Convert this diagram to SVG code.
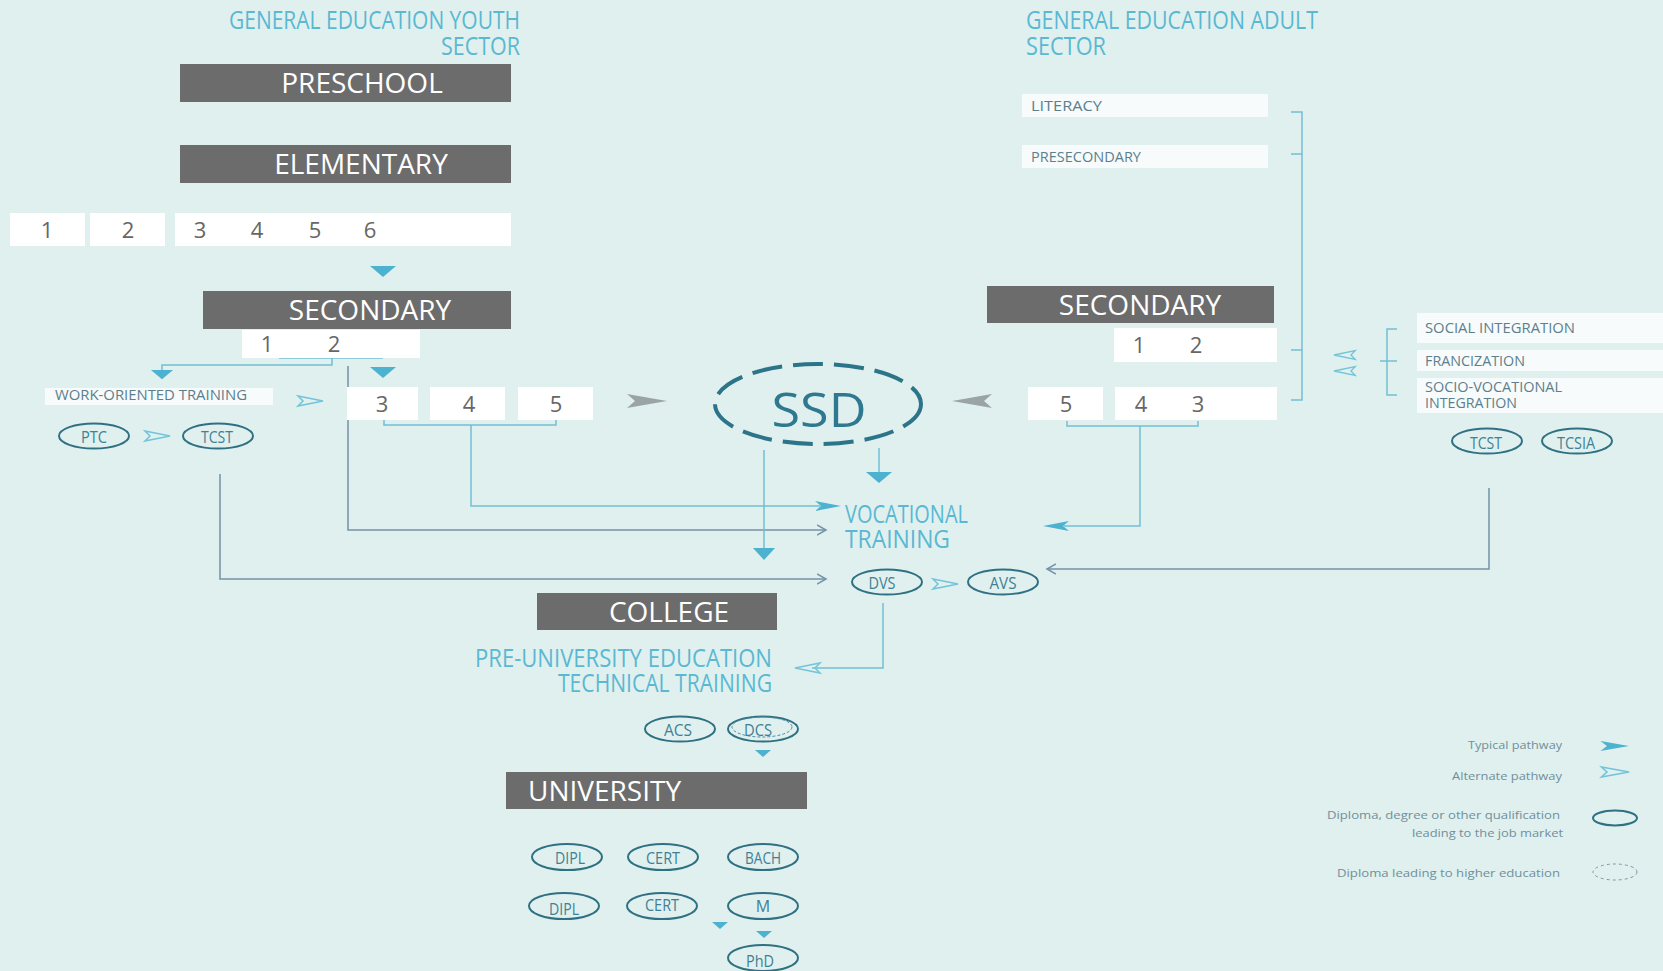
<svg xmlns="http://www.w3.org/2000/svg" width="1663" height="971" viewBox="0 0 1663 971">
<style>
.bg{fill:#e0f0ee}
.bar{fill:#6c6c6c}
.bart{font-family:"Open Sans","Noto Sans",sans-serif;font-size:28px;fill:#ffffff;text-anchor:middle}
.bartl{font-family:"Open Sans","Noto Sans",sans-serif;font-size:28px;fill:#ffffff;text-anchor:start}
.wbox{fill:#ffffff}
.sbox{fill:#f7fbfb}
.num{font-family:"Open Sans","Noto Sans",sans-serif;font-size:22px;fill:#666666;text-anchor:middle}
.title{font-family:"Open Sans","Noto Sans",sans-serif;font-size:25px;fill:#5ab8d3}
.lbl{font-family:"Open Sans","Noto Sans",sans-serif;font-size:15px;fill:#5c7f8e}
.oval{fill:none;stroke:#2f7183;stroke-width:2}
.ovt{font-family:"Open Sans","Noto Sans",sans-serif;font-size:16px;fill:#3f8096;text-anchor:middle}
.lb{fill:none;stroke:#72bfd4;stroke-width:1.5}
.gb{fill:none;stroke:#7392a8;stroke-width:1.5}
.tri{fill:#4cb2cf}
.dart{fill:#4cb2cf}
.hdart{fill:none;stroke:#72c4da;stroke-width:1.5}
.gdart{fill:#9aa4a6}
.leg{font-family:"Open Sans","Noto Sans",sans-serif;font-size:11px;fill:#6f8f9c;text-anchor:end}
</style>
<defs>
<path id="dartR" d="M0,0 L-26,-5 L-20,0 L-26,5 Z"/>
<path id="hdartR" d="M0,0 L-25,-5 L-20,0 L-25,5 Z"/>
<path id="gdartR" d="M0,0 L-40,-7 L-32,0 L-40,7 Z"/>
<path id="triD" d="M-13,0 L13,0 L0,11 Z"/>
<path id="triS" d="M-8,0 L8,0 L0,7 Z"/>
<marker id="chev" markerUnits="userSpaceOnUse" markerWidth="12" markerHeight="12" refX="9" refY="5" orient="auto" viewBox="0 0 12 10">
<path d="M0,0 L9,5 L0,10" fill="none" stroke="#7392a8" stroke-width="1.5"/>
</marker>
</defs>
<rect class="bg" x="0" y="0" width="1663" height="971"/>

<g id="connectors">
<use href="#triD" class="tri" transform="translate(383,266)"/>
<path class="lb" d="M279,358 H383"/>
<path class="lb" d="M332,358 V365 H162 V371"/>
<use href="#triD" class="tri" transform="translate(162,370) scale(0.85)"/>
<use href="#triD" class="tri" transform="translate(383,367)"/>
<path class="gb" d="M348,366 V530 H826" marker-end="url(#chev)"/>
<path class="lb" d="M384,420 V425 H556 V420"/>
<path class="lb" d="M471,425 V506 H820"/>
<use href="#dartR" class="dart" transform="translate(841,506)"/>
<use href="#hdartR" class="hdart" transform="translate(323,401)"/>
<use href="#gdartR" class="gdart" transform="translate(667,401)"/>
<use href="#gdartR" class="gdart" transform="translate(952,401) scale(-1,1)"/>
<path class="lb" d="M764,450 V549"/>
<use href="#triD" class="tri" transform="translate(764,548) scale(0.85,1.1)"/>
<path class="lb" d="M879,448 V473"/>
<use href="#triD" class="tri" transform="translate(879,472)"/>
<path class="gb" d="M220,474 V579 H826" marker-end="url(#chev)"/>
<use href="#hdartR" class="hdart" transform="translate(958,584)"/>
<use href="#hdartR" class="hdart" transform="translate(170,436)"/>
<path class="lb" d="M883,603 V668 H812"/>
<use href="#hdartR" class="hdart" transform="translate(795,668) scale(-1,1)"/>
<path class="lb" d="M1291,112 H1302 V400 H1291 M1291,154 H1302 M1291,350 H1302"/>
<path class="lb" d="M1397,329 H1387 V395 H1397 M1380,361 H1397"/>
<use href="#hdartR" class="hdart" transform="translate(1334,355) scale(-0.85,0.9)"/>
<use href="#hdartR" class="hdart" transform="translate(1334,371) scale(-0.85,0.9)"/>
<path class="lb" d="M1067,421 V426 H1198 V421"/>
<path class="lb" d="M1140,426 V526 H1064"/>
<use href="#dartR" class="dart" transform="translate(1043,526) scale(-1,1)"/>
<path class="gb" d="M1489,488 V569 H1047" marker-end="url(#chev)"/>
<use href="#triS" class="tri" transform="translate(763,750)"/>
<use href="#triS" class="tri" transform="translate(720,922)"/>
<use href="#triS" class="tri" transform="translate(764,931)"/>
</g>

<g id="title-youth">
<text class="title" x="520" y="29" text-anchor="end" textLength="291" lengthAdjust="spacingAndGlyphs">GENERAL EDUCATION YOUTH</text>
<text class="title" x="520" y="55" text-anchor="end" textLength="79" lengthAdjust="spacingAndGlyphs">SECTOR</text>
</g>
<g id="preschool">
<rect class="bar" x="180" y="64" width="331" height="38"/>
<text class="bart" x="362" y="93">PRESCHOOL</text>
</g>
<g id="elementary">
<rect class="bar" x="180" y="145" width="331" height="38"/>
<text class="bart" x="361" y="174">ELEMENTARY</text>
</g>
<g id="elementary-grades">
<rect class="wbox" x="10" y="213" width="75" height="33"/>
<rect class="wbox" x="90" y="213" width="75" height="33"/>
<rect class="wbox" x="175" y="213" width="336" height="33"/>
<text class="num" x="47" y="238">1</text>
<text class="num" x="128" y="238">2</text>
<text class="num" x="200" y="238">3</text>
<text class="num" x="257" y="238">4</text>
<text class="num" x="315" y="238">5</text>
<text class="num" x="370" y="238">6</text>
</g>
<g id="secondary-youth">
<rect class="bar" x="203" y="291" width="308" height="38"/>
<text class="bart" x="370" y="320">SECONDARY</text>
</g>
<g id="secondary-youth-12">
<rect class="wbox" x="242" y="330" width="178" height="28"/>
<text class="num" x="267" y="352">1</text>
<text class="num" x="334" y="352">2</text>
</g>
<g id="secondary-youth-345">
<rect class="wbox" x="347" y="387" width="71" height="33"/>
<rect class="wbox" x="430" y="387" width="75" height="33"/>
<rect class="wbox" x="518" y="387" width="75" height="33"/>
<text class="num" x="382" y="412">3</text>
<text class="num" x="469" y="412">4</text>
<text class="num" x="556" y="412">5</text>
</g>
<g id="work-oriented">
<rect class="sbox" x="45" y="388" width="228" height="17"/>
<text class="lbl" x="55" y="400" textLength="192" lengthAdjust="spacingAndGlyphs">WORK-ORIENTED TRAINING</text>
</g>
<g id="ptc">
<ellipse class="oval" cx="94" cy="436" rx="35" ry="12.5"/>
<text class="ovt" x="94" y="443" textLength="26" lengthAdjust="spacingAndGlyphs">PTC</text>
</g>
<g id="tcst-youth">
<ellipse class="oval" cx="218" cy="436" rx="35" ry="12.5"/>
<text class="ovt" x="217" y="443" textLength="32" lengthAdjust="spacingAndGlyphs">TCST</text>
</g>
<g id="ssd">
<ellipse cx="818" cy="404" rx="103" ry="40" fill="none" stroke="#2c7489" stroke-width="4" stroke-dasharray="30 11"/>
<text x="819" y="427" text-anchor="middle" font-family="Open Sans, Noto Sans, sans-serif" font-size="48" fill="#2e7890" textLength="95" lengthAdjust="spacingAndGlyphs">SSD</text>
</g>
<g id="vocational">
<text class="title" x="845" y="523" textLength="123" lengthAdjust="spacingAndGlyphs">VOCATIONAL</text>
<text class="title" x="845" y="548" textLength="105" lengthAdjust="spacingAndGlyphs">TRAINING</text>
</g>
<g id="dvs">
<ellipse class="oval" cx="887" cy="582" rx="35" ry="12.5"/>
<text class="ovt" x="882" y="589" textLength="27" lengthAdjust="spacingAndGlyphs">DVS</text>
</g>
<g id="avs">
<ellipse class="oval" cx="1003" cy="582" rx="35" ry="12.5"/>
<text class="ovt" x="1003" y="589" textLength="27" lengthAdjust="spacingAndGlyphs">AVS</text>
</g>
<g id="college">
<rect class="bar" x="537" y="593" width="240" height="37"/>
<text class="bart" x="669" y="622">COLLEGE</text>
</g>
<g id="college-programs">
<text class="title" x="772" y="667" text-anchor="end" textLength="297" lengthAdjust="spacingAndGlyphs">PRE-UNIVERSITY  EDUCATION</text>
<text class="title" x="772" y="692" text-anchor="end" textLength="214" lengthAdjust="spacingAndGlyphs">TECHNICAL  TRAINING</text>
</g>
<g id="acs">
<ellipse class="oval" cx="680" cy="729" rx="35" ry="12.5"/>
<text class="ovt" x="678" y="736" textLength="28" lengthAdjust="spacingAndGlyphs">ACS</text>
</g>
<g id="dcs">
<ellipse class="oval" cx="763" cy="729" rx="35" ry="12.5"/>
<ellipse cx="762" cy="727" rx="30" ry="10" fill="none" stroke="#4f8da0" stroke-width="1" stroke-dasharray="3 2"/>
<text class="ovt" x="758" y="736" textLength="28" lengthAdjust="spacingAndGlyphs">DCS</text>
</g>
<g id="university">
<rect class="bar" x="506" y="772" width="301" height="37"/>
<text class="bartl" x="528" y="801">UNIVERSITY</text>
</g>
<g id="dipl-1">
<ellipse class="oval" cx="567" cy="857" rx="35" ry="13"/>
<text class="ovt" x="570" y="864" textLength="30" lengthAdjust="spacingAndGlyphs">DIPL</text>
</g>
<g id="cert-1">
<ellipse class="oval" cx="663" cy="857" rx="35" ry="13"/>
<text class="ovt" x="663" y="864" textLength="34" lengthAdjust="spacingAndGlyphs">CERT</text>
</g>
<g id="bach">
<ellipse class="oval" cx="763" cy="857" rx="35" ry="13"/>
<text class="ovt" x="763" y="864" textLength="36" lengthAdjust="spacingAndGlyphs">BACH</text>
</g>
<g id="dipl-2">
<ellipse class="oval" cx="564" cy="906" rx="35" ry="13"/>
<text class="ovt" x="564" y="915" textLength="30" lengthAdjust="spacingAndGlyphs">DIPL</text>
</g>
<g id="cert-2">
<ellipse class="oval" cx="662" cy="906" rx="35" ry="13"/>
<text class="ovt" x="662" y="911" textLength="34" lengthAdjust="spacingAndGlyphs">CERT</text>
</g>
<g id="m">
<ellipse class="oval" cx="763" cy="906" rx="35" ry="13"/>
<text class="ovt" x="763" y="912">M</text>
</g>
<g id="phd">
<ellipse class="oval" cx="763" cy="958" rx="35" ry="13"/>
<text class="ovt" x="760" y="967" textLength="28" lengthAdjust="spacingAndGlyphs">PhD</text>
</g>

<g id="title-adult">
<text class="title" x="1026" y="29" textLength="292" lengthAdjust="spacingAndGlyphs">GENERAL  EDUCATION ADULT</text>
<text class="title" x="1026" y="55" textLength="80" lengthAdjust="spacingAndGlyphs">SECTOR</text>
</g>
<g id="literacy">
<rect class="sbox" x="1022" y="94" width="246" height="23"/>
<text class="lbl" x="1031" y="111" textLength="71" lengthAdjust="spacingAndGlyphs">LITERACY</text>
</g>
<g id="presecondary">
<rect class="sbox" x="1022" y="145" width="246" height="23"/>
<text class="lbl" x="1031" y="162" textLength="110" lengthAdjust="spacingAndGlyphs">PRESECONDARY</text>
</g>
<g id="secondary-adult">
<rect class="bar" x="987" y="286" width="287" height="37"/>
<text class="bart" x="1140" y="315">SECONDARY</text>
</g>
<g id="secondary-adult-12">
<rect class="wbox" x="1114" y="328" width="163" height="34"/>
<text class="num" x="1139" y="353">1</text>
<text class="num" x="1196" y="353">2</text>
</g>
<g id="secondary-adult-543">
<rect class="wbox" x="1028" y="387" width="75" height="33"/>
<rect class="wbox" x="1115" y="387" width="162" height="33"/>
<text class="num" x="1066" y="412">5</text>
<text class="num" x="1141" y="412">4</text>
<text class="num" x="1198" y="412">3</text>
</g>
<g id="social-integration">
<rect class="sbox" x="1417" y="313" width="246" height="30"/>
<text class="lbl" x="1425" y="333" font-size="16" textLength="150" lengthAdjust="spacingAndGlyphs">SOCIAL INTEGRATION</text>
</g>
<g id="francization">
<rect class="sbox" x="1417" y="350" width="246" height="21"/>
<text class="lbl" x="1425" y="366" font-size="16" textLength="100" lengthAdjust="spacingAndGlyphs">FRANCIZATION</text>
</g>
<g id="socio-vocational">
<rect class="sbox" x="1417" y="378" width="246" height="35"/>
<text class="lbl" x="1425" y="392" font-size="16" textLength="137" lengthAdjust="spacingAndGlyphs">SOCIO-VOCATIONAL</text>
<text class="lbl" x="1425" y="408" font-size="16" textLength="92" lengthAdjust="spacingAndGlyphs">INTEGRATION</text>
</g>
<g id="tcst-adult">
<ellipse class="oval" cx="1487" cy="441" rx="35" ry="12.5"/>
<text class="ovt" x="1486" y="449" textLength="32" lengthAdjust="spacingAndGlyphs">TCST</text>
</g>
<g id="tcsia">
<ellipse class="oval" cx="1577" cy="441" rx="35" ry="12.5"/>
<text class="ovt" x="1576" y="449" textLength="38" lengthAdjust="spacingAndGlyphs">TCSIA</text>
</g>

<g id="legend">
<text class="leg" x="1562" y="749" textLength="94" lengthAdjust="spacingAndGlyphs">Typical pathway</text>
<use href="#dartR" class="dart" transform="translate(1629,746) scale(1.1,1)"/>
<text class="leg" x="1562" y="780" textLength="110" lengthAdjust="spacingAndGlyphs">Alternate pathway</text>
<use href="#hdartR" class="hdart" transform="translate(1629,772) scale(1.1,1)"/>
<text class="leg" x="1560" y="819" textLength="233" lengthAdjust="spacingAndGlyphs">Diploma, degree or other qualification</text>
<text class="leg" x="1563" y="837" textLength="151" lengthAdjust="spacingAndGlyphs">leading to the job market</text>
<ellipse class="oval" cx="1615" cy="818" rx="22" ry="7.5"/>
<text class="leg" x="1560" y="877" textLength="223" lengthAdjust="spacingAndGlyphs">Diploma leading to higher education</text>
<ellipse cx="1615" cy="872" rx="22" ry="8" fill="none" stroke="#7f97a3" stroke-width="1" stroke-dasharray="3 3"/>
</g>
</svg>
